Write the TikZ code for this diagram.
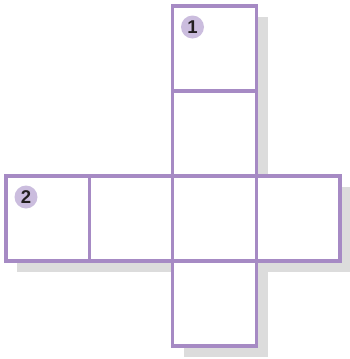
\documentclass[tikz,border=0pt]{standalone}
\usepackage{fontspec}
\setsansfont{Liberation Sans}
\definecolor{edge}{HTML}{A68AC4}
\definecolor{badge}{HTML}{CBBDDE}
\definecolor{shadowgray}{HTML}{DCDCDC}
\definecolor{ink}{HTML}{231F20}
\begin{document}
\begin{tikzpicture}[x=1pt,y=-1pt,
  cell/.style={draw=edge,line width=3.5pt,fill=white},
  shadowcell/.style={fill=shadowgray},
  numbadge/.style={circle,fill=badge,minimum size=23pt,inner sep=0pt,
    font=\sffamily\bfseries\fontsize{18.5}{18.5}\selectfont,text=ink}]
\useasboundingbox (0,0) rectangle (350,359);
% shadow
\begin{scope}[shift={(11,11)}]
\fill[shadowcell] (172.5,6) rectangle (256.5,176);
\fill[shadowcell] (6,176) rectangle (340,261);
\fill[shadowcell] (172.5,261) rectangle (256.5,346);
\end{scope}
% cells
\draw[cell] (172.5,6) rectangle (256.5,91);
\draw[cell] (172.5,91) rectangle (256.5,176);
\draw[cell] (6,176) rectangle (89.5,261);
\draw[cell] (89.5,176) rectangle (172.5,261);
\draw[cell] (172.5,176) rectangle (256.5,261);
\draw[cell] (256.5,176) rectangle (340,261);
\draw[cell] (172.5,261) rectangle (256.5,346);
% badges
\node[numbadge] (b1) at (192.5,27) {1};
\node[numbadge] (b2) at (26,197) {2};
\end{tikzpicture}
\end{document}
